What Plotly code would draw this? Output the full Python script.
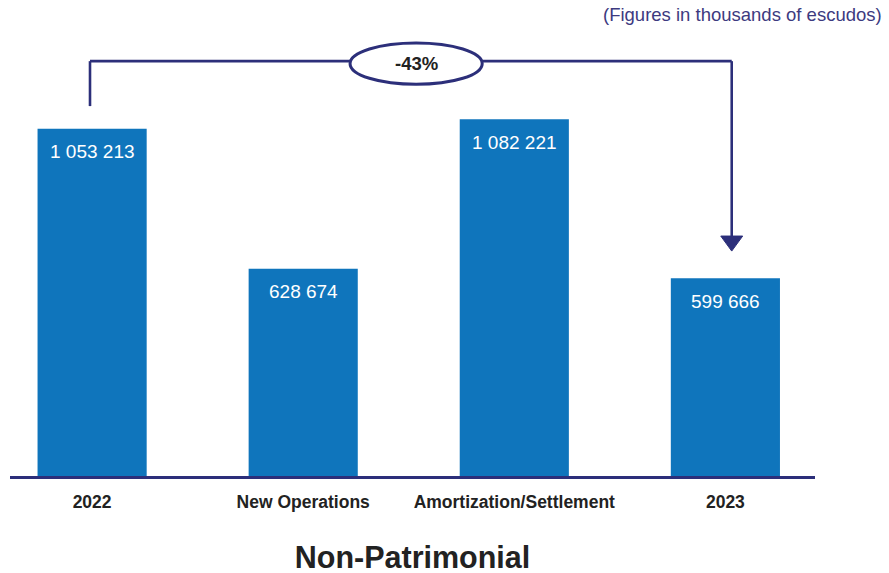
import plotly.graph_objects as go

# Non-patrimonial portfolio movement (thousands of escudos)
categories = ["2022", "New Operations", "Amortization/Settlement", "2023"]
values = [1053213, 628674, 1082221, 599666]
change_label = "-43%"
subtitle = "(Figures in thousands of escudos)"
title_text = "Non-Patrimonial"

BAR = "#0F75BC"
NAVY = "#2C2F7A"
FONT = "Liberation Sans, Arial, sans-serif"


def fmt(v):
    return f"{v:,}".replace(",", " ")


fig = go.Figure(
    go.Bar(
        x=categories,
        y=values,
        width=0.517,
        marker=dict(color=BAR, line=dict(width=0)),
        hoverinfo="skip",
    )
)

# value labels inside the top of each bar (positioned by category index)
for i, v in enumerate(values):
    fig.add_annotation(
        x=i, y=v, xref="x", yref="y", text=fmt(v), showarrow=False,
        yanchor="middle", yshift=-23,
        font=dict(family=FONT, size=19, color="white"),
    )

ymax = 1383500
top = max(values)
bracket_y = top * 1.163      # horizontal run of the bracket
left_foot = top * 1.037      # start of the left leg above the 2022 bar
tip_y = values[3] * 1.138    # arrow tip above the 2023 bar
head_y = values[3] * 1.214
x_left, x_right = -0.01, 3.03
ell_x0, ell_x1 = 1.222, 1.848
ell_y0, ell_y1 = top * 1.098, top * 1.214

line = dict(color=NAVY, width=2.6)
fig.add_shape(type="line", x0=x_left, x1=x_left, y0=left_foot, y1=bracket_y, xref="x", yref="y", line=line)
fig.add_shape(type="line", x0=x_left, x1=ell_x0, y0=bracket_y, y1=bracket_y, xref="x", yref="y", line=line)
fig.add_shape(type="line", x0=ell_x1, x1=x_right, y0=bracket_y, y1=bracket_y, xref="x", yref="y", line=line)
fig.add_shape(type="line", x0=x_right, x1=x_right, y0=bracket_y, y1=head_y, xref="x", yref="y", line=line)
fig.add_shape(
    type="path",
    path=f"M {x_right - 0.052} {head_y} L {x_right + 0.052} {head_y} L {x_right} {tip_y} Z",
    xref="x", yref="y", fillcolor=NAVY, line=dict(color=NAVY, width=1),
)
fig.add_shape(
    type="circle", x0=ell_x0, x1=ell_x1, y0=ell_y0, y1=ell_y1,
    xref="x", yref="y", fillcolor="white", line=dict(color=NAVY, width=3),
)
fig.add_annotation(
    x=(ell_x0 + ell_x1) / 2, y=(ell_y0 + ell_y1) / 2, xref="x", yref="y",
    text=f"<b>{change_label}</b>",
    showarrow=False, font=dict(family=FONT, size=18.5, color="#222222"),
)

fig.add_annotation(
    xref="paper", yref="paper", x=1.0857, y=1.013, xanchor="right", yanchor="middle",
    text=subtitle, showarrow=False, font=dict(family=FONT, size=18.5, color="#3D3A80"),
)

fig.update_layout(
    width=889, height=573,
    margin=dict(l=10, r=74, t=20, b=97),
    paper_bgcolor="white", plot_bgcolor="white",
    showlegend=False,
    font=dict(family=FONT),
    title=dict(
        text=f"<b>{title_text}</b>", xref="paper", x=0.5, xanchor="center",
        yref="container", y=1 - 557 / 573, yanchor="middle",
        font=dict(family=FONT, size=30.5, color="#222222"),
    ),
    xaxis=dict(
        type="category",
        range=[-0.389, 3.4245], showgrid=False, zeroline=False,
        showline=True, linecolor=NAVY, linewidth=3,
        ticks="", ticklabelstandoff=8,
        tickfont=dict(family=FONT, size=17.5, color="#222222", weight="bold"),
    ),
    yaxis=dict(
        range=[0, ymax], showgrid=False, zeroline=False,
        showticklabels=False, showline=False, ticks="",
    ),
)

fig.write_html("out.html")
